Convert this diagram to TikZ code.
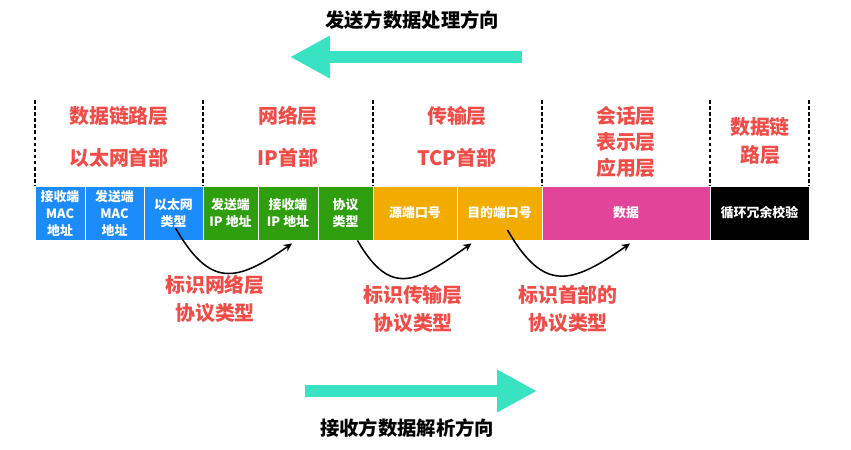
\documentclass[tikz,border=0pt]{standalone}
\usepackage{fontspec}
\setmainfont{Noto Sans CJK SC}
\usepackage{tikz}
\usetikzlibrary{positioning, arrows.meta}

\definecolor{macblue}{RGB}{28,140,250}
\definecolor{ipgreen}{RGB}{46,158,14}
\definecolor{tcporange}{RGB}{242,172,0}
\definecolor{datapink}{RGB}{226,68,154}
\definecolor{labelred}{RGB}{240,76,72}
\definecolor{dirteal}{RGB}{58,226,196}

\begin{document}
\begin{tikzpicture}[x=0.03cm, y=0.03cm,
    cell/.style={draw=white, line width=0.8pt, inner sep=0pt, minimum height=1.62cm,
      align=center, text=white, font=\fontsize{11}{14.5}\selectfont\bfseries},
    layer/.style={text=labelred, align=center, font=\fontsize{17}{22}\selectfont\bfseries},
    note/.style={text=labelred, align=center, font=\fontsize{17}{24}\selectfont\bfseries},
    title/.style={font=\fontsize{16.5}{20}\selectfont\bfseries},
    sep/.style={line width=1.3pt, dash pattern=on 3pt off 2.2pt},
    typearrow/.style={line width=1.3pt, -{Stealth[length=7pt, width=6.5pt]}, looseness=1.5},
    dir/.style={dirteal, line width=10pt, -{Triangle[length=34pt, width=34pt]}}]
    \useasboundingbox (0,0) rectangle (851,-449);

    % Direction arrows
    \node[title] (sendtitle) at (412,-20) {发送方数据处理方向};
    \coordinate (sendtail) at (522,-57);
    \coordinate (sendtip) at (290,-57);
    \draw[dir] (sendtail) -- (sendtip);
    \node[title] (recvtitle) at (407,-428) {接收方数据解析方向};
    \coordinate (recvtail) at (305,-391);
    \coordinate (recvtip) at (537,-391);
    \draw[dir] (recvtail) -- (recvtip);

    % Layer borders
    \foreach \x in {35, 203, 373, 542, 710, 809} {
      \draw[sep] (\x,-100) -- (\x,-186);
    }

    % Layer names
    \node[layer] (eth) at (119,-116) {数据链路层};
    \node[layer] (ethhead) at (119,-158) {以太网首部};
    \node[layer] (net) at (288,-116) {网络层};
    \node[layer] (iphead) at (288,-158) {IP首部};
    \node[layer] (trans) at (457,-116) {传输层};
    \node[layer] (tcphead) at (457,-158) {TCP首部};
    \node[layer] (app) at (626,-142) {会话层\\表示层\\应用层};
    \node[layer, font=\fontsize{17}{24.5}\selectfont\bfseries] (tail) at (760,-141) {数据链\\路层};

    % Frame fields
    \foreach \n/\a/\b/\c/\t in {dstmac/35/85/macblue/{接收端\\MAC\\地址},
                                srcmac/85/144/macblue/{发送端\\MAC\\地址},
                                ethtype/144/203/macblue/{以太网\\类型},
                                srcip/203/258/ipgreen/{发送端\\IP 地址},
                                dstip/258/318/ipgreen/{接收端\\IP 地址},
                                proto/318/373/ipgreen/{协议\\类型},
                                srcport/373/457/tcporange/{源端口号},
                                dstport/457/542/tcporange/{目的端口号},
                                payload/542/710/datapink/{数据},
                                crc/710/809/black/{循环冗余校验}} {
      \pgfmathsetmacro\w{(\b-\a)*0.03}
      \node[cell, fill=\c, minimum width=\w cm] (\n) at ({(\a+\b)/2},-213) {\t};
    }

    % Type fields
    \draw[typearrow] ([shift={(2,-15)}]ethtype.center) to[out=-60, in=-145] ([shift={(4,-3)}]dstip.south);
    \draw[typearrow] ([shift={(12,0)}]proto.south) to[out=-60, in=-145] ([shift={(-28,-3)}]dstport.south);
    \draw[typearrow] ([shift={(8,-17)}]dstport.center) to[out=-60, in=-145] ([shift={(4,-3)}]payload.south);

    \node[note] (netnote) at (215,-299) {标识网络层\\协议类型};
    \node[note] (transnote) at (413,-309) {标识传输层\\协议类型};
    \node[note] (headnote) at (568,-309) {标识首部的\\协议类型};
\end{tikzpicture}
\end{document}
